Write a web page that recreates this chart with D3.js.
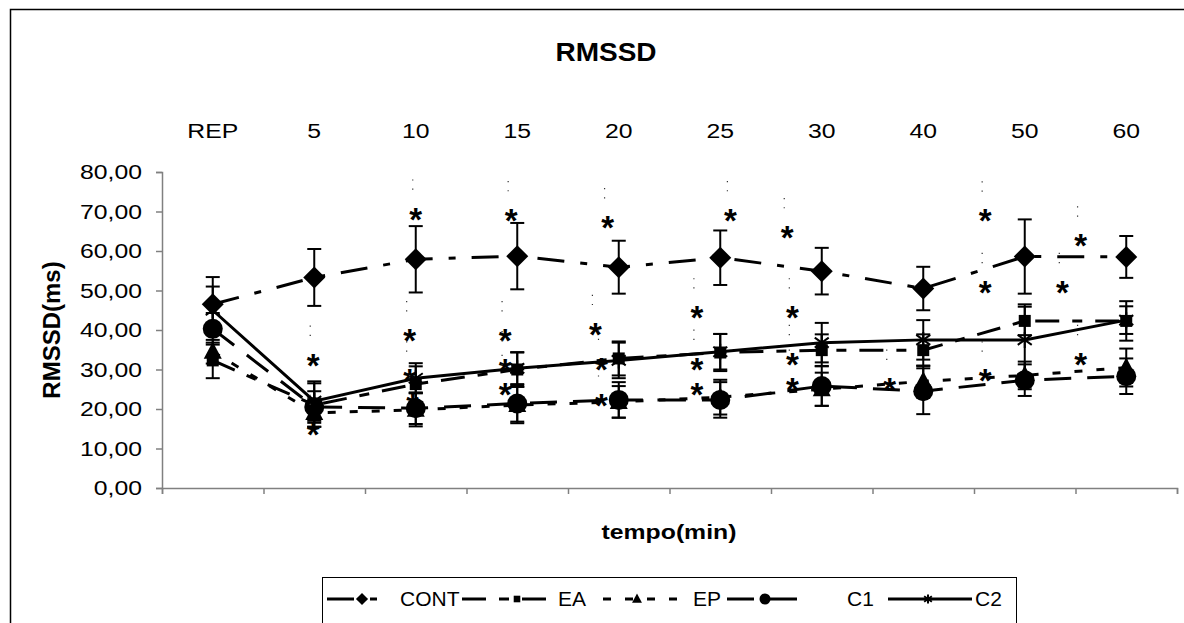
<!DOCTYPE html>
<html>
<head>
<meta charset="utf-8">
<script src="https://cdn.jsdelivr.net/npm/d3@7"></script>
<style>
body { margin: 0; background: #fff; }
text { font-family: "Liberation Sans", Arial, sans-serif; fill: #000; }
</style>
</head>
<body>
<svg></svg>
<script>
// data
var categories = ["REP", "5", "10", "15", "20", "25", "30", "40", "50", "60"];
var yTicks = [0, 10, 20, 30, 40, 50, 60, 70, 80];

var contMean = [46.5, 53.3, 57.9, 58.7, 55.9, 58.3, 54.9, 50.5, 58.6, 58.5];
var contSd   = [6.9, 7.2, 8.4, 8.4, 6.7, 6.9, 5.9, 5.5, 9.4, 5.3];
var eaMean   = [32.3, 21.0, 26.3, 30.0, 32.8, 34.3, 34.9, 34.9, 42.3, 42.3];
var eaSd     = [4.5, 5.5, 4.5, 4.4, 4.3, 4.7, 4.0, 4.0, 3.6, 5.0];
var epMean   = [34.5, 19.0, 19.8, 21.0, 21.8, 23.0, 25.0, 27.0, 28.5, 30.5];
var epSd     = [3.0, 3.5, 4.2, 4.6, 4.0, 4.4, 4.2, 4.0, 3.5, 4.8];
var c1Mean   = [40.3, 20.5, 20.2, 21.4, 22.3, 22.3, 25.8, 24.5, 27.3, 28.3];
var c1Sd     = [4.0, 4.0, 4.0, 4.6, 4.5, 4.5, 5.0, 5.8, 4.0, 4.5];
var c2Mean   = [45.0, 22.0, 27.8, 30.3, 32.3, 34.5, 36.8, 37.5, 37.5, 42.5];
var c2Sd     = [6.0, 5.0, 3.8, 4.0, 4.5, 4.5, 5.0, 5.0, 9.0, 3.5];

// significance asterisks: [position in category units, value]
var stars = [
  [0.99, 33], [0.99, 15.5],
  [2.0, 70], [1.94, 39.2], [1.94, 29], [1.97, 22.8],
  [2.94, 69.6], [2.88, 39.2], [2.88, 31.6], [2.88, 25.6],
  [3.89, 67.8], [3.77, 40.8], [3.83, 32], [3.83, 22.7],
  [5.10, 69.6], [4.77, 45], [4.77, 32], [4.77, 25.6],
  [5.66, 65.3], [5.71, 45], [5.71, 33.2], [5.71, 26.9],
  [6.67, 26.9],
  [7.61, 69.5], [7.61, 51.4], [7.61, 29],
  [8.55, 63.2], [8.37, 51.4], [8.55, 33.2]
];

var series = [
  {name: "CONT", mean: contMean, sd: contSd, marker: "diamond", dash: "27,16,7,16"},
  {name: "EA",   mean: eaMean,   sd: eaSd,   marker: "square",  dash: "24,13,10,13"},
  {name: "EP",   mean: epMean,   sd: epSd,   marker: "triangle", dash: "8,14"},
  {name: "C1",   mean: c1Mean,   sd: c1Sd,   marker: "circle",  dash: "27,16"},
  {name: "C2",   mean: c2Mean,   sd: c2Sd,   marker: "star",    dash: null}
];

var W = 1184, H = 623;
var plot = {left: 162, right: 1177, top: 172, bottom: 488};
var SX = 1.18; // text in the picture is stretched horizontally

var svg = d3.select("svg").attr("width", W).attr("height", H);

svg.append("rect")
  .attr("x", 10.5).attr("y", 9.5)
  .attr("width", 1300).attr("height", 800)
  .attr("fill", "none").attr("stroke", "#000").attr("stroke-width", 1.5);

function label(g, x, y, str, size, weight, anchor, sx) {
  return g.append("text")
    .attr("transform", "translate(" + x + "," + y + ") scale(" + (sx || SX) + ",1)")
    .attr("text-anchor", anchor || "middle")
    .attr("dy", "0.35em")
    .style("font-size", size + "px")
    .style("font-weight", weight || "normal")
    .text(str);
}

var x = d3.scaleBand().domain(categories).range([plot.left, plot.right]);
var y = d3.scaleLinear().domain([0, 80]).range([plot.bottom, plot.top]);
var xPos = d3.scaleLinear()
  .domain([0, categories.length - 1])
  .range([x(categories[0]) + x.bandwidth() / 2, x(categories[categories.length - 1]) + x.bandwidth() / 2]);
var xEdge = d3.scaleLinear().domain([0, categories.length]).range([plot.left, plot.right]);

// title
label(svg, 606, 52, "RMSSD", 25, "bold", "middle", 1.12);

// category labels above plot
categories.forEach(function(c) {
  label(svg, x(c) + x.bandwidth() / 2, 131, c, 21);
});

// y axis
var yAxis = svg.append("g")
  .attr("transform", "translate(" + plot.left + ",0)")
  .call(d3.axisLeft(y).tickValues(yTicks).tickSize(6).tickPadding(14)
    .tickFormat(function(d) { return d3.format(".2f")(d).replace(".", ","); }));
yAxis.select(".domain").attr("stroke", "#808080").attr("stroke-width", 1.5);
yAxis.selectAll(".tick line").attr("stroke", "#808080").attr("stroke-width", 1.5);
yAxis.selectAll(".tick text")
  .style("font-size", "21px").attr("font-family", null)
  .attr("transform", function() {
    var tx = +this.getAttribute("x");
    d3.select(this).attr("x", 0);
    return "translate(" + tx + ",0) scale(" + SX + ",1)";
  });

// x axis (tick marks at category edges)
var xAxis = svg.append("g")
  .attr("transform", "translate(0," + plot.bottom + ")")
  .call(d3.axisBottom(xEdge).ticks(categories.length).tickSize(6).tickFormat(""));
xAxis.select(".domain").attr("stroke", "#808080").attr("stroke-width", 1.5);
xAxis.selectAll(".tick line").attr("stroke", "#808080").attr("stroke-width", 1.5);

// axis titles
label(svg, 669, 532, "tempo(min)", 21, "bold");
svg.append("text")
  .attr("transform", "translate(52," + ((plot.top + plot.bottom) / 2) + ") rotate(-90)")
  .attr("text-anchor", "middle").attr("dy", "0.35em")
  .style("font-size", "24px").style("font-weight", "bold")
  .text("RMSSD(ms)");

// markers (k scales the marker, legend uses smaller ones)
function drawMarker(g, type, cx, cy, k) {
  k = k || 1;
  var t = "translate(" + cx + "," + cy + ") scale(" + k + ")";
  if (type === "diamond") {
    g.append("path").attr("d", "M0,-11L11,0L0,11L-11,0Z").attr("transform", t).attr("fill", "#000");
  } else if (type === "square") {
    g.append("path").attr("d", "M-6,-6H6V6H-6Z").attr("transform", t).attr("fill", "#000");
  } else if (type === "triangle") {
    g.append("path").attr("d", "M0,-10L9,7L-9,7Z").attr("transform", t).attr("fill", "#000");
  } else if (type === "circle") {
    g.append("circle").attr("r", 10).attr("transform", t).attr("fill", "#000");
  } else if (type === "star") {
    g.append("path").attr("d", "M0,-8L0,8M-7,-5L7,5M-7,5L7,-5").attr("transform", t)
      .attr("stroke", "#000").attr("stroke-width", 2 / k).attr("fill", "none");
  }
}

var line = d3.line()
  .x(function(d, i) { return xPos(i); })
  .y(function(d) { return y(d); });

series.forEach(function(s) {
  var g = svg.append("g").attr("class", "series");
  g.append("path")
    .datum(s.mean)
    .attr("d", line)
    .attr("fill", "none")
    .attr("stroke", "#000")
    .attr("stroke-width", 3)
    .attr("stroke-dasharray", s.dash);

  s.mean.forEach(function(m, i) {
    var cx = xPos(i), lo = y(m - s.sd[i]), hi = y(m + s.sd[i]);
    g.append("line").attr("x1", cx).attr("x2", cx).attr("y1", lo).attr("y2", hi)
      .attr("stroke", "#000").attr("stroke-width", 2);
    [lo, hi].forEach(function(yy) {
      g.append("line").attr("x1", cx - 7).attr("x2", cx + 7).attr("y1", yy).attr("y2", yy)
        .attr("stroke", "#000").attr("stroke-width", 2);
    });
  });
  s.mean.forEach(function(m, i) { drawMarker(g, s.marker, xPos(i), y(m)); });
});

// asterisks with their dotted leaders
var starG = svg.append("g");
stars.forEach(function(st) {
  var sx = xPos(st[0]), sy = y(st[1]);
  starG.append("line")
    .attr("x1", sx - 3).attr("x2", sx - 3)
    .attr("y1", y(st[1] + 5.5)).attr("y2", y(st[1] + 9.5))
    .attr("stroke", "#333").attr("stroke-width", 1.2).attr("stroke-dasharray", "1.2,8");
  starG.append("text")
    .attr("x", sx).attr("y", sy + 19)
    .attr("text-anchor", "middle")
    .style("font-size", "33px").style("font-weight", "bold")
    .text("*");
});

// legend
var legendLayout = [
  {x0: 327, x1: 390, mx: 362, tx: 400},
  {x0: 462, x1: 557, mx: 517, tx: 558},
  {x0: 603, x1: 683, mx: 637, tx: 693},
  {x0: 727, x1: 800, mx: 765, tx: 847},
  {x0: 888, x1: 972, mx: 928, tx: 975}
];
var legend = svg.append("g");
legend.append("rect")
  .attr("x", 322.5).attr("y", 577.5).attr("width", 694).attr("height", 60)
  .attr("fill", "#fff").attr("stroke", "#000").attr("stroke-width", 1);
series.forEach(function(s, i) {
  var L = legendLayout[i], ly = 599;
  legend.append("line")
    .attr("x1", L.x0).attr("x2", L.x1).attr("y1", ly).attr("y2", ly)
    .attr("stroke", "#000").attr("stroke-width", 3)
    .attr("stroke-dasharray", s.dash);
  drawMarker(legend, s.marker, L.mx, ly, 0.55);
  label(legend, L.tx, ly, s.name, 20, "normal", "start", 1.05);
});
</script>
</body>
</html>
